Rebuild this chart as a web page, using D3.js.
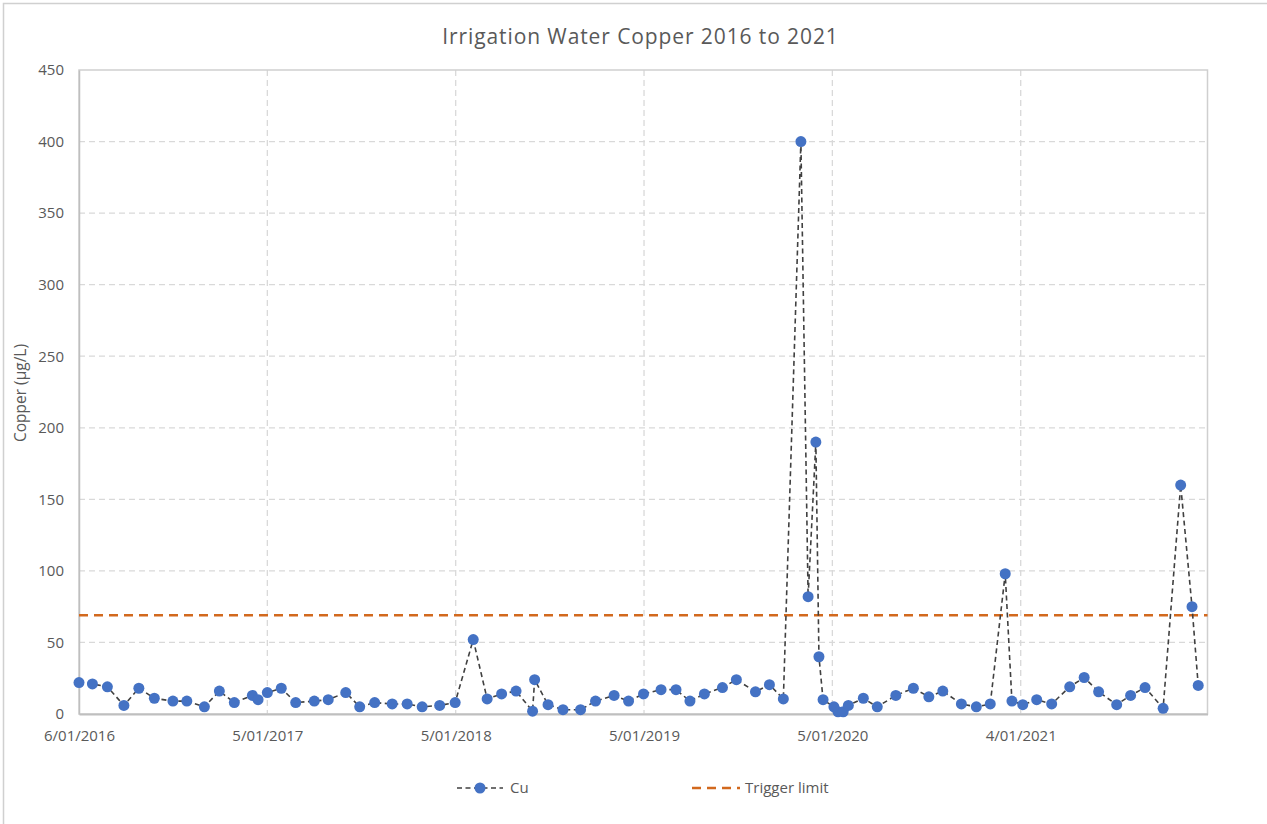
<!DOCTYPE html>
<html>
<head>
<meta charset="utf-8">
<script src="https://cdn.jsdelivr.net/npm/d3@7"></script>
<style>
	body { margin: 0; background: #fff; }
	svg { display: block; font-family: "Open Sans", "Noto Sans", sans-serif; }
</style>
</head>
<body>
<div id="chart"></div>
<script>
// sample dates and copper readings (µg/L)
const sampleDates = [
	'2016-01-06', '2016-02-01', '2016-03-01', '2016-04-02', '2016-05-01', '2016-05-31',
	'2016-07-06', '2016-08-02', '2016-09-05', '2016-10-04', '2016-11-02', '2016-12-07',
	'2016-12-18', '2017-01-05', '2017-02-01', '2017-03-01', '2017-04-06', '2017-05-03',
	'2017-06-06', '2017-07-03', '2017-08-01', '2017-09-04', '2017-10-03', '2017-11-01',
	'2017-12-05', '2018-01-04', '2018-02-08', '2018-03-07', '2018-04-04', '2018-05-02',
	'2018-06-03', '2018-06-07', '2018-07-03', '2018-08-01', '2018-09-04', '2018-10-03',
	'2018-11-08', '2018-12-06', '2019-01-04', '2019-02-07', '2019-03-08', '2019-04-04',
	'2019-05-02', '2019-06-06', '2019-07-03', '2019-08-09', '2019-09-05', '2019-10-02',
	'2019-11-05', '2019-11-19', '2019-12-04', '2019-12-10', '2019-12-18', '2020-01-08',
	'2020-01-16', '2020-01-26', '2020-02-05', '2020-03-05', '2020-04-01', '2020-05-07',
	'2020-06-10', '2020-07-10', '2020-08-06', '2020-09-11', '2020-10-10', '2020-11-06',
	'2020-12-05', '2020-12-18', '2021-01-08', '2021-02-04', '2021-03-05', '2021-04-09',
	'2021-05-07', '2021-06-04', '2021-07-09', '2021-08-05', '2021-09-02', '2021-10-07',
	'2021-11-10', '2021-12-02', '2021-12-14'
];
const copperValues = [
	22, 21, 19, 6, 18, 11,
	9, 9, 5, 16, 8, 13,
	10, 15, 18, 8, 9, 10,
	15, 5, 8, 7, 7, 5,
	6, 8, 52, 10.5, 14, 16,
	2, 24, 6.5, 3, 3, 9,
	13, 9, 14, 17, 17, 9,
	14, 18.5, 24, 15.5, 20.5, 10.5,
	400, 82, 190, 40, 10, 5,
	1.5, 1.5, 6, 11, 5, 13,
	18, 12, 16, 7, 5, 7,
	98, 9, 6.5, 10, 7, 19,
	25.5, 15.5, 6.5, 13, 18.5, 4,
	160, 75, 20
];
const triggerLimit = 69;

const xDomain = ['2016-01-06', '2022-01-01'];
const xTickDates = ['2016-01-06', '2017-01-05', '2018-01-05', '2019-01-05', '2020-01-05', '2021-01-04'];
const xTickLabels = ['6/01/2016', '5/01/2017', '5/01/2018', '5/01/2019', '5/01/2020', '4/01/2021'];
const yTicks = [0, 50, 100, 150, 200, 250, 300, 350, 400, 450];

const titleText = 'Irrigation Water Copper 2016 to 2021';
const yAxisTitle = 'Copper (µg/L)';
const legendLabels = ['Cu', 'Trigger limit'];

const width = 1267, height = 824;
const margin = { top: 70, right: 59.5, bottom: 110, left: 79 };
const chartWidth = width - margin.left - margin.right;
const chartHeight = height - margin.top - margin.bottom;

const blue = '#4472C4';
const orange = '#D2691E';
const textGrey = '#595959';
const gridGrey = '#d9d9d9';
const fontStack = '"Open Sans", "Noto Sans", sans-serif';

const parse = d3.utcParse('%Y-%m-%d');
const points = sampleDates.map((d, i) => ({ date: parse(d), value: copperValues[i] }));

const xScale = d3.scaleUtc()
	.domain(xDomain.map(parse))
	.range([0, chartWidth]);
const yScale = d3.scaleLinear()
	.domain([0, 450])
	.range([chartHeight, 0]);

const svg = d3.select('#chart')
	.append('svg')
	.attr('width', width)
	.attr('height', height);

// outer chart frame (runs off the right and bottom of the picture)
svg.append('rect')
	.attr('x', 3.5)
	.attr('y', 3.5)
	.attr('width', width + 20)
	.attr('height', height + 20)
	.attr('fill', 'white')
	.attr('stroke', '#d0d0d0')
	.attr('stroke-width', 1.5);

svg.append('text')
	.attr('x', 640.5)
	.attr('y', 44)
	.attr('text-anchor', 'middle')
	.attr('font-size', 21)
	.attr('letter-spacing', 0.9)
	.attr('fill', textGrey)
	.text(titleText);

const chartGroup = svg.append('g')
	.attr('transform', `translate(${margin.left},${margin.top})`);

// gridlines
chartGroup.append('g')
	.selectAll('line')
	.data(yTicks.filter(t => t > 0 && t < 450))
	.enter()
	.append('line')
	.attr('x1', 0)
	.attr('x2', chartWidth)
	.attr('y1', d => yScale(d))
	.attr('y2', d => yScale(d))
	.attr('stroke', gridGrey)
	.attr('stroke-width', 1.3)
	.attr('stroke-dasharray', '6,4');

chartGroup.append('g')
	.selectAll('line')
	.data(xTickDates.slice(1).map(parse))
	.enter()
	.append('line')
	.attr('x1', d => xScale(d))
	.attr('x2', d => xScale(d))
	.attr('y1', 0)
	.attr('y2', chartHeight)
	.attr('stroke', gridGrey)
	.attr('stroke-width', 1.3)
	.attr('stroke-dasharray', '6,4');

// plot area border
chartGroup.append('rect')
	.attr('width', chartWidth)
	.attr('height', chartHeight)
	.attr('fill', 'none')
	.attr('stroke', '#cfcfcf')
	.attr('stroke-width', 1.5);

// axes
const yAxis = d3.axisLeft(yScale).tickValues(yTicks).tickSize(0).tickPadding(15);
chartGroup.append('g')
	.attr('class', 'axis')
	.call(yAxis)
	.call(g => g.select('.domain').attr('stroke', '#bfbfbf').attr('stroke-width', 1.5))
	.call(g => g.selectAll('text').attr('font-size', 15).attr('fill', textGrey)
		.attr('font-family', fontStack));

const xAxis = d3.axisBottom(xScale)
	.tickValues(xTickDates.map(parse))
	.tickFormat((d, i) => xTickLabels[i])
	.tickSize(0)
	.tickPadding(16);
chartGroup.append('g')
	.attr('class', 'axis')
	.attr('transform', `translate(0,${chartHeight})`)
	.call(xAxis)
	.call(g => g.select('.domain').attr('stroke', '#bfbfbf').attr('stroke-width', 2))
	.call(g => g.selectAll('text').attr('font-size', 15).attr('fill', textGrey)
		.attr('font-family', fontStack));

svg.append('text')
	.attr('transform', `translate(26,${margin.top + chartHeight / 2 + 1}) rotate(-90)`)
	.attr('text-anchor', 'middle')
	.attr('font-size', 15.5)
	.attr('fill', textGrey)
	.text(yAxisTitle);

// trigger limit
chartGroup.append('line')
	.attr('x1', 0)
	.attr('x2', chartWidth)
	.attr('y1', yScale(triggerLimit))
	.attr('y2', yScale(triggerLimit))
	.attr('stroke', orange)
	.attr('stroke-width', 2.5)
	.attr('stroke-dasharray', '9,6');

// copper series
const line = d3.line()
	.x(d => xScale(d.date))
	.y(d => yScale(d.value));

chartGroup.append('path')
	.datum(points)
	.attr('fill', 'none')
	.attr('stroke', '#404040')
	.attr('stroke-width', 1.6)
	.attr('stroke-dasharray', '5,3.5')
	.attr('d', line);

chartGroup.selectAll('circle')
	.data(points)
	.enter()
	.append('circle')
	.attr('cx', d => xScale(d.date))
	.attr('cy', d => yScale(d.value))
	.attr('r', 5.5)
	.attr('fill', blue);

// legend
const legend = svg.append('g').attr('transform', 'translate(0,788)');

legend.append('line')
	.attr('x1', 457).attr('x2', 503)
	.attr('stroke', '#404040').attr('stroke-width', 1.6)
	.attr('stroke-dasharray', '5,3.5');
legend.append('circle')
	.attr('cx', 480).attr('r', 5.5).attr('fill', blue);
legend.append('text')
	.attr('x', 510).attr('y', 5)
	.attr('font-size', 15).attr('fill', textGrey)
	.text(legendLabels[0]);

legend.append('line')
	.attr('x1', 692).attr('x2', 740)
	.attr('stroke', orange).attr('stroke-width', 2.5)
	.attr('stroke-dasharray', '9,6');
legend.append('text')
	.attr('x', 745).attr('y', 5)
	.attr('font-size', 15).attr('fill', textGrey)
	.text(legendLabels[1]);
</script>
</body>
</html>
